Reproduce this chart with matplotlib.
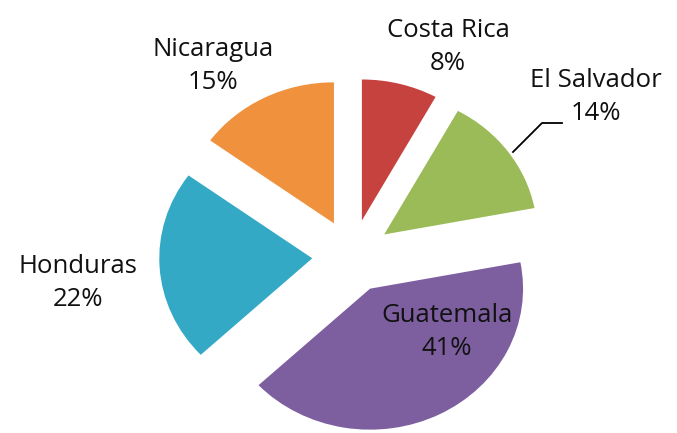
import matplotlib.pyplot as plt

# share of total by country
countries = ['Costa Rica', 'El Salvador', 'Guatemala', 'Honduras', 'Nicaragua']
shares = [8, 14, 41, 22, 15]
colors = ['#c6423f', '#9bbb59', '#7d5fa0', '#33a9c5', '#f0913d']

W, H = 677, 433
RX, RY = 153.0, 141.0   # pie radius in pixels (picture is a bit stretched sideways)
cx, cy = 352, 256       # pie centre in pixels (from top)

fig = plt.figure(figsize=(W / 100, H / 100), dpi=100)
ax = fig.add_axes([0, 0, 1, 1])

wedges, _ = ax.pie(shares, colors=colors, startangle=90, counterclock=False,
                   explode=[0.26] * len(shares), radius=1,
                   wedgeprops=dict(linewidth=0))

ax.set_aspect('auto')
ax.set_xlim(-cx / RX, (W - cx) / RX)
ax.set_ylim(-(H - cy) / RY, cy / RY)
ax.axis('off')


def px(x, y):
    # pixel position (y from top) -> data coords
    return (x - cx) / RX, (cy - y) / RY


# label centres in pixels
label_pos = {
    'Costa Rica': (448, 47),
    'El Salvador': (596, 97),
    'Guatemala': (447, 332),
    'Honduras': (78, 283),
    'Nicaragua': (213, 66),
}

for name, val in zip(countries, shares):
    x, y = px(*label_pos[name])
    ax.text(x, y, f"{name}\n{val}%", ha='center', va='center',
            fontsize=18.5, family='Open Sans', linespacing=1.38, color='#111111')

# leader line for El Salvador
lx, ly = zip(px(513, 152), px(542, 123), px(562, 123))
ax.plot(lx, ly, color='black', linewidth=1.3)

fig.savefig('out.png', dpi=100)
